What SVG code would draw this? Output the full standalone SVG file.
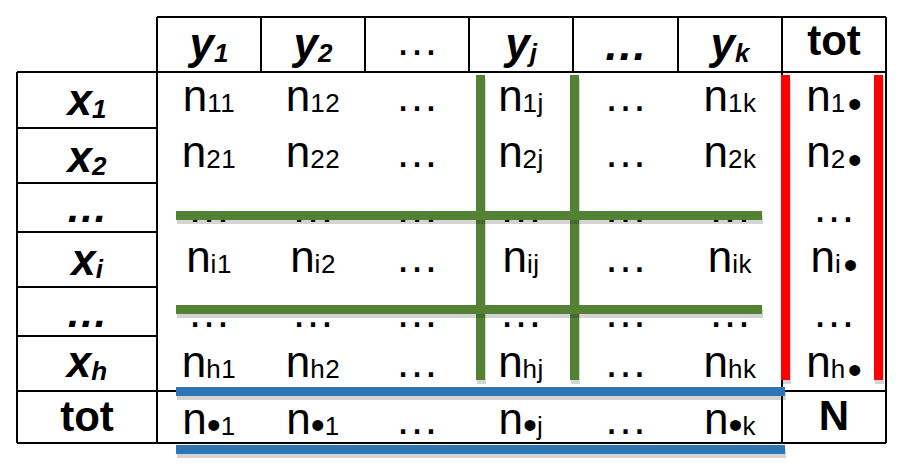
<svg xmlns="http://www.w3.org/2000/svg" width="906" height="472" viewBox="0 0 906 472">
<style>
text{font-family:"Liberation Sans",Arial,sans-serif;fill:#000;text-anchor:middle}
.n{font-size:44px}
.s{font-size:26px;letter-spacing:0.5px}
.b{font-size:40px}
.h{font-size:44px;font-weight:bold;font-style:italic}
.hs{font-size:26px;font-weight:bold;font-style:italic}
.t{font-size:42px;font-weight:bold}
.bd{font-size:42px;font-weight:bold;font-style:italic}
.grid{stroke:#000;stroke-width:2;fill:none}
.sh{fill:#000;opacity:.17}
.g{fill:#548235}
.r{fill:#FF0000}
.bl{fill:#2E75B6}
</style>
<rect width="906" height="472" fill="#fff"/>
<g id="grid" class="grid">
<path d="M157 17H886M17 72H886M17 128H157M17 183H157M17 232H157M17 287H157M17 336H157M17 391H886M17 443H886"/>
<path d="M17 72V443M157 17V443M261 17V72M365 17V72M469 17V72M573 17V72M678 17V72M782 17V443M886 17V443"/>
</g>
<g id="header">
<text class="h" x="209" y="59">y<tspan class="hs" dy="3">1</tspan></text>
<text class="h" x="313" y="59">y<tspan class="hs" dy="3">2</tspan></text>
<text class="n" x="417" y="55">…</text>
<text class="h" x="521" y="59">y<tspan class="hs" dy="3">j</tspan></text>
<text class="h" x="625.5" y="60">…</text>
<text class="h" x="730" y="59">y<tspan class="hs" dy="3">k</tspan></text>
<text class="t" x="834" y="55">tot</text>
</g>
<g id="row-labels">
<text class="h" x="87" y="115">x<tspan class="hs" dy="3">1</tspan></text>
<text class="h" x="87" y="172">x<tspan class="hs" dy="3">2</tspan></text>
<text class="bd" x="87" y="222">…</text>
<text class="h" x="87" y="275">x<tspan class="hs" dy="3">i</tspan></text>
<text class="bd" x="87" y="327">…</text>
<text class="h" x="87" y="377">x<tspan class="hs" dy="3">h</tspan></text>
<text class="t" x="87" y="431">tot</text>
</g>
<g id="cells">
<text class="n" x="209" y="111">n<tspan class="s" dy="1">11</tspan></text>
<text class="n" x="313" y="111">n<tspan class="s" dy="1">12</tspan></text>
<text class="n" x="417" y="111">…</text>
<text class="n" x="521" y="111">n<tspan class="s" dy="1">1j</tspan></text>
<text class="n" x="625.5" y="111">…</text>
<text class="n" x="730" y="111">n<tspan class="s" dy="1">1k</tspan></text>

<text class="n" x="209" y="167">n<tspan class="s" dy="1">21</tspan></text>
<text class="n" x="313" y="167">n<tspan class="s" dy="1">22</tspan></text>
<text class="n" x="417" y="167">…</text>
<text class="n" x="521" y="167">n<tspan class="s" dy="1">2j</tspan></text>
<text class="n" x="625.5" y="167">…</text>
<text class="n" x="730" y="167">n<tspan class="s" dy="1">2k</tspan></text>

<text class="n" x="209" y="222">…</text>
<text class="n" x="313" y="222">…</text>
<text class="n" x="417" y="222">…</text>
<text class="n" x="521" y="222">…</text>
<text class="n" x="625.5" y="222">…</text>
<text class="n" x="730" y="222">…</text>

<text class="n" x="209" y="272">n<tspan class="s" dy="1">i1</tspan></text>
<text class="n" x="313" y="272">n<tspan class="s" dy="1">i2</tspan></text>
<text class="n" x="417" y="272">…</text>
<text class="n" x="521" y="272">n<tspan class="s" dy="1">ij</tspan></text>
<text class="n" x="625.5" y="272">…</text>
<text class="n" x="730" y="272">n<tspan class="s" dy="1">ik</tspan></text>

<text class="n" x="209" y="327">…</text>
<text class="n" x="313" y="327">…</text>
<text class="n" x="417" y="327">…</text>
<text class="n" x="521" y="327">…</text>
<text class="n" x="625.5" y="327">…</text>
<text class="n" x="730" y="327">…</text>

<text class="n" x="209" y="377">n<tspan class="s" dy="1">h1</tspan></text>
<text class="n" x="313" y="377">n<tspan class="s" dy="1">h2</tspan></text>
<text class="n" x="417" y="377">…</text>
<text class="n" x="521" y="377">n<tspan class="s" dy="1">hj</tspan></text>
<text class="n" x="625.5" y="377">…</text>
<text class="n" x="730" y="377">n<tspan class="s" dy="1">hk</tspan></text>

<text class="n" x="209" y="434">n<tspan class="b" dy="5">•</tspan><tspan class="s" dy="-4">1</tspan></text>
<text class="n" x="313" y="434">n<tspan class="b" dy="5">•</tspan><tspan class="s" dy="-4">1</tspan></text>
<text class="n" x="417" y="434">…</text>
<text class="n" x="521" y="434">n<tspan class="b" dy="5">•</tspan><tspan class="s" dy="-4">j</tspan></text>
<text class="n" x="625.5" y="434">…</text>
<text class="n" x="730" y="434">n<tspan class="b" dy="5">•</tspan><tspan class="s" dy="-4">k</tspan></text>
</g>
<g id="totals">
<text class="n" x="834" y="111">n<tspan class="s" dy="1">1</tspan><tspan class="b" dx="2" dy="6">•</tspan></text>
<text class="n" x="834" y="167">n<tspan class="s" dy="1">2</tspan><tspan class="b" dx="2" dy="6">•</tspan></text>
<text class="n" x="834" y="222">…</text>
<text class="n" x="834" y="272">n<tspan class="s" dy="1">i</tspan><tspan class="b" dx="2" dy="6">•</tspan></text>
<text class="n" x="834" y="327">…</text>
<text class="n" x="834" y="377">n<tspan class="s" dy="1">h</tspan><tspan class="b" dx="2" dy="6">•</tspan></text>
<text class="t" x="834" y="430">N</text>
</g>
<g id="connectors">
<rect class="sh" x="477" y="79" width="9" height="305"/>
<rect class="sh" x="571" y="79" width="9" height="305"/>
<rect class="sh" x="782" y="79" width="9" height="305"/>
<rect class="sh" x="875" y="79" width="9" height="305"/>
<rect class="g" x="476" y="75" width="9" height="305"/>
<rect class="g" x="570" y="75" width="9" height="305"/>
<rect class="r" x="781" y="75" width="9" height="305"/>
<rect class="r" x="874" y="75" width="9" height="305"/>
<rect class="sh" x="177" y="215" width="586" height="9"/>
<rect class="sh" x="177" y="309" width="586" height="9"/>
<rect class="g" x="176" y="211" width="586" height="9"/>
<rect class="g" x="176" y="305" width="586" height="9"/>
<rect class="sh" x="177" y="391" width="609" height="9"/>
<rect class="sh" x="177" y="449" width="609" height="9"/>
<rect class="bl" x="176" y="387" width="609" height="9"/>
<rect class="bl" x="176" y="445" width="609" height="9"/>
</g>
</svg>
